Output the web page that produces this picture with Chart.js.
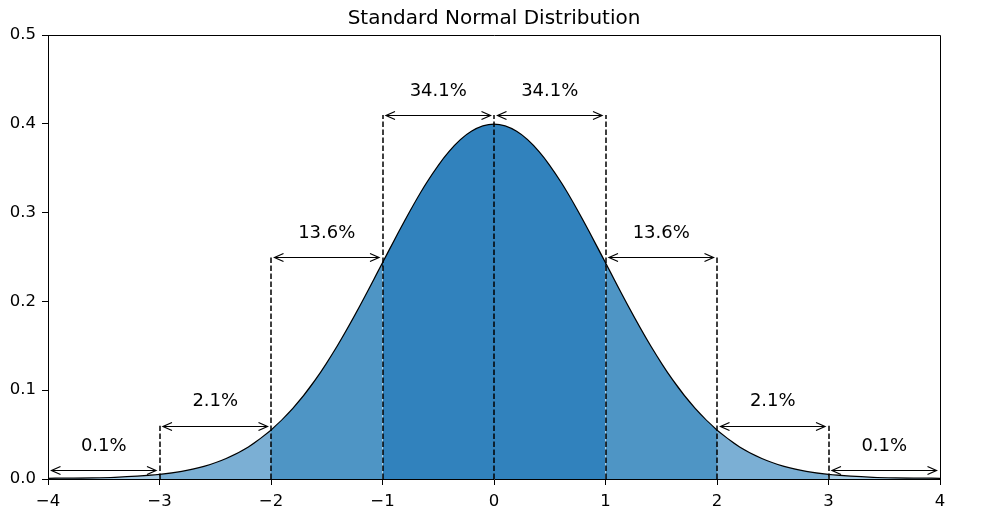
<!DOCTYPE html>
<html>
<head>
<meta charset="utf-8">
<title>Standard Normal Distribution</title>
<script src="https://cdn.jsdelivr.net/npm/chart.js@4.4.1/dist/chart.umd.min.js"></script>
<style>
    body { margin: 0; background: #fff; }
    #wrap { width: 992px; height: 526px; }
</style>
</head>
<body>
<div id="wrap"><canvas id="normalChart" width="992" height="526"></canvas></div>
<script>
// ========================
// DATA
// ========================

const xValues = [-4, -3.8, -3.6, -3.4, -3.2, -3, -2.8, -2.6, -2.4, -2.2, -2, -1.8, -1.6, -1.4, -1.2, -1,
    -0.8, -0.6, -0.4, -0.2, 0, 0.2, 0.4, 0.6, 0.8, 1, 1.2, 1.4, 1.6, 1.8, 2, 2.2, 2.4, 2.6, 2.8, 3,
    3.2, 3.4, 3.6, 3.8, 4];
const density = [0.0001, 0.0003, 0.0006, 0.0012, 0.0024, 0.0044, 0.0079, 0.0136, 0.0224, 0.0355, 0.0540,
    0.0790, 0.1109, 0.1497, 0.1942, 0.2420, 0.2897, 0.3332, 0.3683, 0.3910, 0.3989, 0.3910, 0.3683,
    0.3332, 0.2897, 0.2420, 0.1942, 0.1497, 0.1109, 0.0790, 0.0540, 0.0355, 0.0224, 0.0136, 0.0079,
    0.0044, 0.0024, 0.0012, 0.0006, 0.0003, 0.0001];

// shaded bands [from, to] and their colours
const bands = [[-4, -3], [-3, -2], [-2, -1], [-1, 1], [1, 2], [2, 3], [3, 4]];
const bandColors = ['#a9cde5', '#7bafd4', '#4e95c5', '#3182bd', '#4e95c5', '#7bafd4', '#a9cde5'];

// dashed markers
const edgeX = [-3, -2, -1, 0, 1, 2, 3];
const edgeTop = [0.06, 0.25, 0.41, 0.41, 0.41, 0.25, 0.06];

// arrows + percentage labels
const arrowSpans = [[-4, -3], [-3, -2], [-2, -1], [-1, 0], [0, 1], [1, 2], [2, 3], [3, 4]];
const arrowLevels = [0.01, 0.06, 0.25, 0.41, 0.41, 0.25, 0.06, 0.01];
const shareLabels = ['0.1%', '2.1%', '13.6%', '34.1%', '34.1%', '13.6%', '2.1%', '0.1%'];
const labelLevels = [0.037, 0.087, 0.277, 0.437, 0.437, 0.277, 0.087, 0.037];

const xTicks = [-4, -3, -2, -1, 0, 1, 2, 3, 4];
const yTicks = [0, 0.1, 0.2, 0.3, 0.4, 0.5];

const FONT = '"DejaVu Sans", sans-serif';

function pointsBetween(a, b) {
    const pts = [];
    xValues.forEach((x, i) => {
        if (x >= a - 1e-9 && x <= b + 1e-9) pts.push({ x: x, y: density[i] });
    });
    return pts;
}

function minusLabel(v) {
    return v < 0 ? '\u2212' + Math.abs(v) : String(v);
}

// ========================
// DATASETS
// ========================

const datasets = bands.map((b, i) => ({
    data: pointsBetween(b[0], b[1]),
    backgroundColor: bandColors[i],
    borderWidth: 0,
    pointRadius: 0,
    fill: 'origin',
    cubicInterpolationMode: 'monotone'
}));

datasets.push({
    data: pointsBetween(-4, 4),
    borderColor: '#000',
    borderWidth: 2.5,
    pointRadius: 0,
    fill: false,
    cubicInterpolationMode: 'monotone'
});

// ========================
// PLUGINS
// ========================

const decorPlugin = {
    id: 'decor',
    beforeDraw(chart) {
        const ctx = chart.ctx;
        ctx.save();
        ctx.fillStyle = '#fff';
        ctx.fillRect(0, 0, chart.width, chart.height);
        ctx.restore();
    },
    afterDatasetsDraw(chart) {
        const ctx = chart.ctx;
        const xs = chart.scales.x, ys = chart.scales.y;
        const area = chart.chartArea;
        ctx.save();

        // dashed lines
        ctx.strokeStyle = '#000';
        ctx.lineWidth = 1.5;
        ctx.setLineDash([5.5, 2.5]);
        edgeX.forEach((x, i) => {
            const px = Math.round(xs.getPixelForValue(x));
            ctx.beginPath();
            ctx.moveTo(px, ys.getPixelForValue(0));
            ctx.lineTo(px, ys.getPixelForValue(edgeTop[i]));
            ctx.stroke();
        });
        ctx.setLineDash([]);

        // double arrows
        ctx.lineWidth = 1.2;
        arrowSpans.forEach((s, i) => {
            const x1 = xs.getPixelForValue(s[0]) + 3.5;
            const x2 = xs.getPixelForValue(s[1]) - 3.5;
            const y = Math.round(ys.getPixelForValue(arrowLevels[i])) + 0.5;
            ctx.beginPath();
            ctx.moveTo(x1, y);
            ctx.lineTo(x2, y);
            ctx.moveTo(x1 + 9, y - 4);
            ctx.lineTo(x1, y);
            ctx.lineTo(x1 + 9, y + 4);
            ctx.moveTo(x2 - 9, y - 4);
            ctx.lineTo(x2, y);
            ctx.lineTo(x2 - 9, y + 4);
            ctx.stroke();
        });

        // percentage labels
        ctx.fillStyle = '#000';
        ctx.font = '18px ' + FONT;
        ctx.textAlign = 'center';
        ctx.textBaseline = 'middle';
        arrowSpans.forEach((s, i) => {
            const mx = xs.getPixelForValue((s[0] + s[1]) / 2);
            ctx.fillText(shareLabels[i], mx, ys.getPixelForValue(labelLevels[i]));
        });

        // top and right frame
        ctx.strokeStyle = '#000';
        ctx.lineWidth = 1;
        ctx.beginPath();
        ctx.moveTo(area.left, area.top + 0.5);
        ctx.lineTo(area.right + 0.5, area.top + 0.5);
        ctx.lineTo(area.right + 0.5, area.bottom);
        ctx.stroke();

        // title
        ctx.font = '20px ' + FONT;
        ctx.fillText('Standard Normal Distribution', (area.left + area.right) / 2, 18.5);
        ctx.restore();
    }
};

// ========================
// CHART
// ========================

new Chart(document.getElementById('normalChart'), {
    type: 'line',
    data: { datasets: datasets },
    options: {
        responsive: false,
        animation: false,
        devicePixelRatio: 1,
        layout: { padding: { top: 35, right: 52, left: 0, bottom: 0 } },
        plugins: {
            legend: { display: false },
            tooltip: { enabled: false },
            title: { display: false }
        },
        scales: {
            x: {
                type: 'linear',
                min: -4,
                max: 4,
                afterFit: s => { s.height = 47; },
                afterBuildTicks: s => { s.ticks = xTicks.map(v => ({ value: v })); },
                ticks: {
                    color: '#000',
                    font: { family: FONT, size: 16.5 },
                    padding: 7,
                    maxRotation: 0,
                    callback: v => minusLabel(v)
                },
                grid: { drawOnChartArea: false, tickLength: 6, color: '#000', tickWidth: 1 },
                border: { color: '#000', width: 1 }
            },
            y: {
                min: 0,
                max: 0.5,
                afterFit: s => { s.width = 48; },
                afterBuildTicks: s => { s.ticks = yTicks.map(v => ({ value: v })); },
                ticks: {
                    color: '#000',
                    font: { family: FONT, size: 16.5 },
                    padding: 6,
                    callback: v => Number(v).toFixed(1)
                },
                grid: { drawOnChartArea: false, tickLength: 6, color: '#000', tickWidth: 1 },
                border: { color: '#000', width: 1 }
            }
        }
    },
    plugins: [decorPlugin]
});
</script>
</body>
</html>
